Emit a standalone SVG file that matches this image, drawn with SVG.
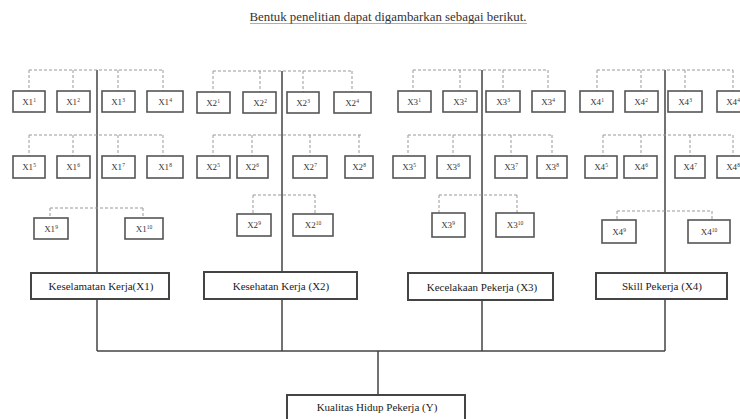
<svg xmlns="http://www.w3.org/2000/svg" width="740" height="419" viewBox="0 0 740 419">
<style>
.bx{fill:#fff;stroke:#555;stroke-width:1.6}
.mb{fill:#fff;stroke:#444;stroke-width:2}
.ln{fill:none;stroke:#444;stroke-width:1.5}
.ds{fill:none;stroke:#999;stroke-width:1;stroke-dasharray:3,2}
.t{font-family:"Liberation Serif",serif;font-size:9px;fill:#333;text-anchor:middle}
.m{font-family:"Liberation Serif",serif;font-size:11px;fill:#222;text-anchor:middle}
.s{font-size:5.5px}
</style>
<rect width="740" height="419" fill="#fff"/>
<text x="388" y="21" font-family="Liberation Serif,serif" font-size="12" fill="#333" text-anchor="middle" textLength="277" lengthAdjust="spacingAndGlyphs">Bentuk penelitian dapat digambarkan sebagai berikut.</text>
<line x1="250" y1="23.5" x2="527" y2="23.5" stroke="#777" stroke-width="0.6"/>

<g id="connectors">
  <path class="ln" d="M97,70V351M282,71V351M482,70V351M665,70V351M97,351H665M378,351V395"/>
  <path class="ds" d="M29,70H163M29,70V91M73,70V91M118,70V91M163,70V91"/>
  <path class="ds" d="M29,135H163M29,135V156M73,135V156M118,135V156M163,135V156"/>
  <path class="ds" d="M50,208H143M50,208V218M143,208V218"/>
  <path class="ds" d="M213,71H352M213,71V92M260,71V92M303,71V92M352,71V92"/>
  <path class="ds" d="M213,135H362M213,135V156M252,135V156M310,135V156M359,135V156"/>
  <path class="ds" d="M253,195H315M253,195V214M315,195V214"/>
  <path class="ds" d="M413,70H548M413,70V91M460,70V91M503,70V91M548,70V91"/>
  <path class="ds" d="M408,135H553M408,135V156M453,135V156M511,135V156M552,135V156"/>
  <path class="ds" d="M439,195H517M439,195V213M517,195V213"/>
  <path class="ds" d="M597,70H733M597,70V91M641,70V91M685,70V91M733,70V91"/>
  <path class="ds" d="M603,135H733M603,135V156M641,135V156M690,135V156M733,135V156"/>
  <path class="ds" d="M617,211H712M617,211V220M712,211V220"/>
</g>

<g id="x1-items">
  <g id="x1-1"><rect class="bx" x="13" y="91" width="32" height="21"/><text class="t" x="29" y="105">X1<tspan class="s" dy="-3">1</tspan></text></g>
  <g id="x1-2"><rect class="bx" x="57" y="91" width="33" height="21"/><text class="t" x="73" y="105">X1<tspan class="s" dy="-3">2</tspan></text></g>
  <g id="x1-3"><rect class="bx" x="102" y="91" width="33" height="21"/><text class="t" x="118" y="105">X1<tspan class="s" dy="-3">3</tspan></text></g>
  <g id="x1-4"><rect class="bx" x="147" y="91" width="36" height="21"/><text class="t" x="165" y="105">X1<tspan class="s" dy="-3">4</tspan></text></g>
  <g id="x1-5"><rect class="bx" x="13" y="156" width="32" height="22"/><text class="t" x="29" y="170">X1<tspan class="s" dy="-3">5</tspan></text></g>
  <g id="x1-6"><rect class="bx" x="57" y="156" width="33" height="22"/><text class="t" x="73" y="170">X1<tspan class="s" dy="-3">6</tspan></text></g>
  <g id="x1-7"><rect class="bx" x="102" y="156" width="33" height="22"/><text class="t" x="118" y="170">X1<tspan class="s" dy="-3">7</tspan></text></g>
  <g id="x1-8"><rect class="bx" x="147" y="156" width="36" height="22"/><text class="t" x="165" y="170">X1<tspan class="s" dy="-3">8</tspan></text></g>
  <g id="x1-9"><rect class="bx" x="34" y="218" width="34" height="21"/><text class="t" x="51" y="232">X1<tspan class="s" dy="-3">9</tspan></text></g>
  <g id="x1-10"><rect class="bx" x="125" y="218" width="38" height="21"/><text class="t" x="144" y="232">X1<tspan class="s" dy="-3">10</tspan></text></g>
</g>

<g id="x2-items">
  <g id="x2-1"><rect class="bx" x="197" y="92" width="33" height="21"/><text class="t" x="213" y="106">X2<tspan class="s" dy="-3">1</tspan></text></g>
  <g id="x2-2"><rect class="bx" x="243" y="92" width="33" height="21"/><text class="t" x="260" y="106">X2<tspan class="s" dy="-3">2</tspan></text></g>
  <g id="x2-3"><rect class="bx" x="287" y="92" width="32" height="21"/><text class="t" x="303" y="106">X2<tspan class="s" dy="-3">3</tspan></text></g>
  <g id="x2-4"><rect class="bx" x="334" y="92" width="37" height="21"/><text class="t" x="352" y="106">X2<tspan class="s" dy="-3">4</tspan></text></g>
  <g id="x2-5"><rect class="bx" x="197" y="156" width="33" height="22"/><text class="t" x="213" y="170">X2<tspan class="s" dy="-3">5</tspan></text></g>
  <g id="x2-6"><rect class="bx" x="237" y="156" width="31" height="22"/><text class="t" x="252" y="170">X2<tspan class="s" dy="-3">6</tspan></text></g>
  <g id="x2-7"><rect class="bx" x="293" y="156" width="34" height="22"/><text class="t" x="310" y="170">X2<tspan class="s" dy="-3">7</tspan></text></g>
  <g id="x2-8"><rect class="bx" x="345" y="156" width="28" height="22"/><text class="t" x="359" y="170">X2<tspan class="s" dy="-3">8</tspan></text></g>
  <g id="x2-9"><rect class="bx" x="237" y="214" width="34" height="22"/><text class="t" x="254" y="228">X2<tspan class="s" dy="-3">9</tspan></text></g>
  <g id="x2-10"><rect class="bx" x="293" y="214" width="40" height="22"/><text class="t" x="313" y="228">X2<tspan class="s" dy="-3">10</tspan></text></g>
</g>

<g id="x3-items">
  <g id="x3-1"><rect class="bx" x="398" y="91" width="33" height="21"/><text class="t" x="414" y="105">X3<tspan class="s" dy="-3">1</tspan></text></g>
  <g id="x3-2"><rect class="bx" x="443" y="91" width="34" height="21"/><text class="t" x="460" y="105">X3<tspan class="s" dy="-3">2</tspan></text></g>
  <g id="x3-3"><rect class="bx" x="486" y="91" width="34" height="21"/><text class="t" x="503" y="105">X3<tspan class="s" dy="-3">3</tspan></text></g>
  <g id="x3-4"><rect class="bx" x="532" y="91" width="33" height="21"/><text class="t" x="548" y="105">X3<tspan class="s" dy="-3">4</tspan></text></g>
  <g id="x3-5"><rect class="bx" x="393" y="156" width="32" height="22"/><text class="t" x="409" y="170">X3<tspan class="s" dy="-3">5</tspan></text></g>
  <g id="x3-6"><rect class="bx" x="437" y="156" width="33" height="22"/><text class="t" x="453" y="170">X3<tspan class="s" dy="-3">6</tspan></text></g>
  <g id="x3-7"><rect class="bx" x="495" y="156" width="32" height="22"/><text class="t" x="511" y="170">X3<tspan class="s" dy="-3">7</tspan></text></g>
  <g id="x3-8"><rect class="bx" x="537" y="156" width="30" height="22"/><text class="t" x="552" y="170">X3<tspan class="s" dy="-3">8</tspan></text></g>
  <g id="x3-9"><rect class="bx" x="432" y="213" width="33" height="24"/><text class="t" x="448" y="228">X3<tspan class="s" dy="-3">9</tspan></text></g>
  <g id="x3-10"><rect class="bx" x="496" y="213" width="38" height="24"/><text class="t" x="515" y="228">X3<tspan class="s" dy="-3">10</tspan></text></g>
</g>

<g id="x4-items">
  <g id="x4-1"><rect class="bx" x="580" y="91" width="33" height="21"/><text class="t" x="597" y="105">X4<tspan class="s" dy="-3">1</tspan></text></g>
  <g id="x4-2"><rect class="bx" x="625" y="91" width="33" height="21"/><text class="t" x="641" y="105">X4<tspan class="s" dy="-3">2</tspan></text></g>
  <g id="x4-3"><rect class="bx" x="668" y="91" width="34" height="21"/><text class="t" x="685" y="105">X4<tspan class="s" dy="-3">3</tspan></text></g>
  <g id="x4-4"><rect class="bx" x="717" y="91" width="33" height="21"/><text class="t" x="733" y="105">X4<tspan class="s" dy="-3">4</tspan></text></g>
  <g id="x4-5"><rect class="bx" x="585" y="156" width="32" height="22"/><text class="t" x="601" y="170">X4<tspan class="s" dy="-3">5</tspan></text></g>
  <g id="x4-6"><rect class="bx" x="624" y="156" width="33" height="22"/><text class="t" x="641" y="170">X4<tspan class="s" dy="-3">6</tspan></text></g>
  <g id="x4-7"><rect class="bx" x="675" y="156" width="30" height="22"/><text class="t" x="690" y="170">X4<tspan class="s" dy="-3">7</tspan></text></g>
  <g id="x4-8"><rect class="bx" x="717" y="156" width="33" height="22"/><text class="t" x="733" y="170">X4<tspan class="s" dy="-3">8</tspan></text></g>
  <g id="x4-9"><rect class="bx" x="602" y="220" width="34" height="23"/><text class="t" x="619" y="235">X4<tspan class="s" dy="-3">9</tspan></text></g>
  <g id="x4-10"><rect class="bx" x="688" y="220" width="42" height="23"/><text class="t" x="709" y="235">X4<tspan class="s" dy="-3">10</tspan></text></g>
</g>

<g id="x1"><rect class="mb" x="31" y="273" width="138" height="26"/><text class="m" x="101" y="290">Keselamatan Kerja(X1)</text></g>
<g id="x2"><rect class="mb" x="204" y="272" width="153" height="27"/><text class="m" x="281" y="290">Kesehatan Kerja (X2)</text></g>
<g id="x3"><rect class="mb" x="408" y="273" width="145" height="27"/><text class="m" x="482" y="291">Kecelakaan Pekerja (X3)</text></g>
<g id="x4"><rect class="mb" x="596" y="273" width="131" height="26"/><text class="m" x="662" y="290">Skill Pekerja (X4)</text></g>
<g id="y"><rect class="mb" x="287" y="395" width="178" height="32"/><text class="m" x="377" y="411">Kualitas Hidup Pekerja (Y)</text></g>
</svg>
